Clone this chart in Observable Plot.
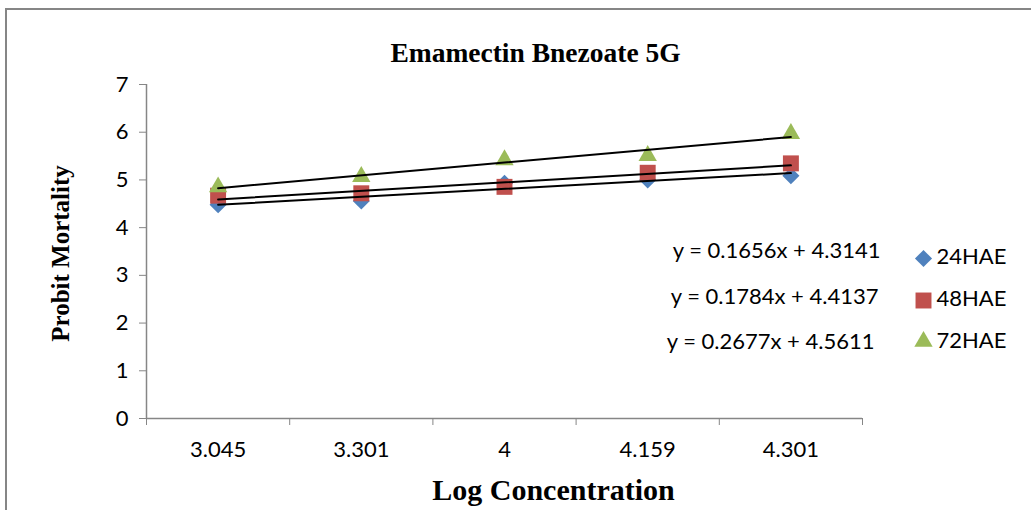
<!DOCTYPE html>
<html>
<head>
<meta charset="utf-8">
<script src="https://cdn.jsdelivr.net/npm/d3@7"></script>
<script src="https://cdn.jsdelivr.net/npm/@observablehq/plot@0.6"></script>
<style>
  body { margin: 0; background: #fff; }
  #wrap { position: relative; width: 1031px; height: 510px; overflow: hidden; background: #fff; }
  #border { position: absolute; left: 5px; top: 8px; right: -10px; bottom: -10px;
            border-top: 2px solid #868686; border-left: 2px solid #868686; pointer-events: none; }
</style>
</head>
<body>
<div id="wrap"><div id="chart"></div><div id="border"></div></div>
<script>
// ---- data ----
const categories = ["3.045", "3.301", "4", "4.159", "4.301"];
const categoryIndex = [1, 2, 3, 4, 5];
const seriesNames = ["24HAE", "48HAE", "72HAE"];
const values24 = [4.48, 4.56, 4.93, 5.00, 5.088];
const values48 = [4.67, 4.72, 4.855, 5.15, 5.347];
const values72 = [4.85, 5.07, 5.42, 5.51, 5.97];
const equations = ["y = 0.1656x + 4.3141", "y = 0.1784x + 4.4137", "y = 0.2677x + 4.5611"];
const yTicks = [0, 1, 2, 3, 4, 5, 6, 7];
const xBoundaries = [0.5, 1.5, 2.5, 3.5, 4.5, 5.5];
const titleText = "Emamectin Bnezoate 5G";
const xTitle = "Log Concentration";
const yTitle = "Probit Mortality";

// ---- styling ----
const colors = ["#4F81BD", "#C0504D", "#9BBB59"];
const symbols = ["diamond2", "square", "triangle"];
const radii = [7.7, 9, 6.8];
const serif = "'Liberation Serif', 'Times New Roman', serif";
const sans = "Lato, Calibri, sans-serif";
const allValues = [values24, values48, values72];

const data = [];
seriesNames.forEach((s, si) => {
  categoryIndex.forEach((i, k) => data.push({series: s, si, i, v: allValues[si][k]}));
});

const eqOffsets = [[18, 166], [16, 212], [12, 257]];
const legMarkOffsets = [[61, 174], [61, 216], [61, 257]];
const legTextOffsets = [[74, 172], [74, 214], [74, 256]];

const marks = [
  Plot.ruleY([0], {stroke: "#868686", strokeWidth: 1.5}),
  Plot.ruleX([0.5], {stroke: "#868686", strokeWidth: 1.5}),
  Plot.axisY({ticks: yTicks, tickSize: 7, tickPadding: 11, tickFormat: d => String(d), stroke: "#868686", fill: "black",
              fontSize: 22, fontFamily: sans, label: null}),
  Plot.axisX({ticks: xBoundaries, tickSize: 7, tickFormat: () => "", stroke: "#868686", label: null}),
  Plot.axisX({ticks: categoryIndex, tickSize: 0, tickPadding: 23, tickFormat: d => categories[d - 1],
              fill: "black", fontSize: 22, fontFamily: sans, label: null})
];

seriesNames.forEach((s, si) => {
  marks.push(Plot.dot(data.filter(d => d.si === si), {
    x: "i", y: "v", symbol: () => symbols[si], r: radii[si], fill: colors[si], stroke: "none"
  }));
});

marks.push(Plot.linearRegressionY(data, {x: "i", y: "v", z: "series", stroke: "black", strokeWidth: 2, ci: 0}));

// equation labels and legend
seriesNames.forEach((s, si) => {
  marks.push(Plot.text([equations[si]], {frameAnchor: "top-right", textAnchor: "end", lineAnchor: "middle",
    dx: eqOffsets[si][0], dy: eqOffsets[si][1], fontSize: 22, fontFamily: sans, fill: "black"}));
  marks.push(Plot.dot([s], {frameAnchor: "top-right", dx: legMarkOffsets[si][0], dy: legMarkOffsets[si][1],
    symbol: () => symbols[si], r: radii[si], fill: colors[si], stroke: "none"}));
  marks.push(Plot.text([s], {frameAnchor: "top-right", textAnchor: "start", lineAnchor: "middle",
    dx: legTextOffsets[si][0], dy: legTextOffsets[si][1], fontSize: 22, fontFamily: sans, fill: "black"}));
});

// titles
marks.push(Plot.text([titleText], {frameAnchor: "top", lineAnchor: "middle", dx: 31, dy: -31, fontSize: 27.5,
  fontWeight: "bold", fontFamily: serif, fill: "black"}));
marks.push(Plot.text([xTitle], {frameAnchor: "bottom", lineAnchor: "middle", dx: 49, dy: 72, fontSize: 30,
  fontWeight: "bold", fontFamily: serif, fill: "black"}));
marks.push(Plot.text([yTitle], {frameAnchor: "left", textAnchor: "middle", lineAnchor: "middle", dx: -86, dy: 2,
  rotate: -90, fontSize: 25, fontWeight: "bold", fontFamily: serif, fill: "black"}));

const chart = Plot.plot({
  width: 1031,
  height: 510,
  marginLeft: 146,
  marginRight: 169,
  marginTop: 84,
  marginBottom: 92,
  style: {background: "white", color: "black", fontFamily: sans, fontSize: "22px", overflow: "visible"},
  x: {type: "linear", domain: [0.5, 5.5]},
  y: {domain: [0, 7]},
  symbol: {type: "identity"},
  marks
});
document.getElementById("chart").appendChild(chart);
</script>
</body>
</html>
